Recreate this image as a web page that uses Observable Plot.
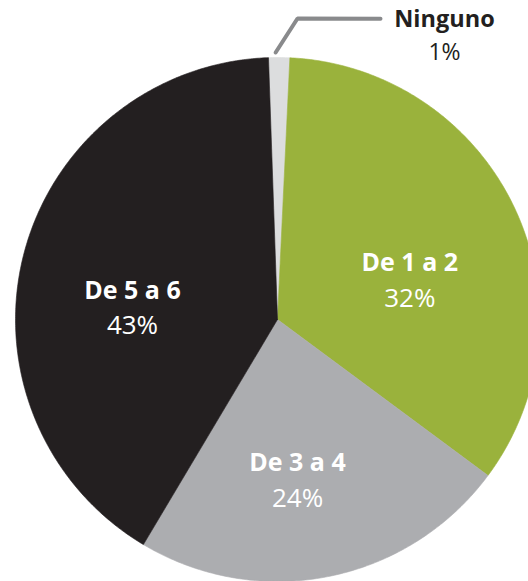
<!DOCTYPE html>
<html>
<head>
<meta charset="utf-8">
<script src="https://cdn.jsdelivr.net/npm/d3@7"></script>
<script src="https://cdn.jsdelivr.net/npm/@observablehq/plot@0.6"></script>
<style>
  html, body { margin: 0; padding: 0; background: #fff; }
  svg { display: block; }
</style>
</head>
<body>
<div id="chart"></div>
<script>
// ---- data ----
const categories = ["Ninguno", "De 1 a 2", "De 3 a 4", "De 5 a 6"];
// slice shares as drawn in the picture (percent of the circle)
const shares = [1.3, 34.4, 23.4, 40.9];
// printed labels
const pctLabels = ["1%", "32%", "24%", "43%"];
const colors = ["#dcddde", "#9ab23c", "#acadb0", "#231f20"];

// ---- layout (label placement in polar terms: degrees clockwise from top, radius in px) ----
const R = 262;
const startDeg = -1.97;
const labelAngle = [30.5, 73.5, 172.9, 274.7];
const labelRadius = [329, 138, 162, 145.5];
const labelInside = [false, true, true, true];
const leaderPolar = [[18.9, 318], [3.8, 301.7], [-0.4, 267]];

const rad = d => d * Math.PI / 180;
const polar = (a, r) => ({x: r * Math.sin(a), y: r * Math.cos(a)});

const arcs = d3.pie().sort(null).value(d => d)
  .startAngle(rad(startDeg)).endAngle(rad(startDeg) + 2 * Math.PI)(shares);

const slicePts = [];
arcs.forEach((a, i) => {
  const cat = categories[i];
  slicePts.push({cat, ...polar(0, 0)});
  const n = Math.max(4, Math.ceil((a.endAngle - a.startAngle) / rad(0.5)));
  for (let k = 0; k <= n; k++) {
    const t = a.startAngle + (a.endAngle - a.startAngle) * k / n;
    slicePts.push({cat, ...polar(t, R)});
  }
  slicePts.push({cat, ...polar(0, 0)});
});

const labels = categories.map((c, i) => ({
  cat: c, pct: pctLabels[i], inside: labelInside[i],
  ...polar(rad(labelAngle[i]), labelRadius[i])
}));

const leader = leaderPolar.map(([a, r]) => polar(rad(a), r));

const font = "'Open Sans', 'Noto Sans', sans-serif";

const chart = Plot.plot({
  width: 528,
  height: 581,
  margin: 0,
  style: {fontFamily: font, background: "#fff", overflow: "visible"},
  x: {domain: [-277, 251], axis: null},
  y: {domain: [-262, 319], axis: null},
  color: {domain: categories, range: colors},
  marks: [
    Plot.line(slicePts, {x: "x", y: "y", z: "cat", fill: "cat", stroke: "cat", strokeWidth: 0.6, curve: "linear"}),
    Plot.line(leader, {x: "x", y: "y", stroke: "#898a8c", strokeWidth: 4, strokeLinejoin: "miter"}),
    Plot.text(labels, {filter: d => d.inside, x: "x", y: "y", text: "cat", fill: "#ffffff", fontWeight: "bold", fontSize: 25, dy: -17}),
    Plot.text(labels, {filter: d => d.inside, x: "x", y: "y", text: "pct", fill: "#ffffff", fontSize: 26, dy: 18}),
    Plot.text(labels, {filter: d => !d.inside, x: "x", y: "y", text: "cat", fill: "#231f20", fontWeight: "bold", fontSize: 23.5, dy: -17}),
    Plot.text(labels, {filter: d => !d.inside, x: "x", y: "y", text: "pct", fill: "#231f20", fontSize: 23, dy: 17})
  ]
});
document.getElementById("chart").appendChild(chart);
</script>
</body>
</html>
